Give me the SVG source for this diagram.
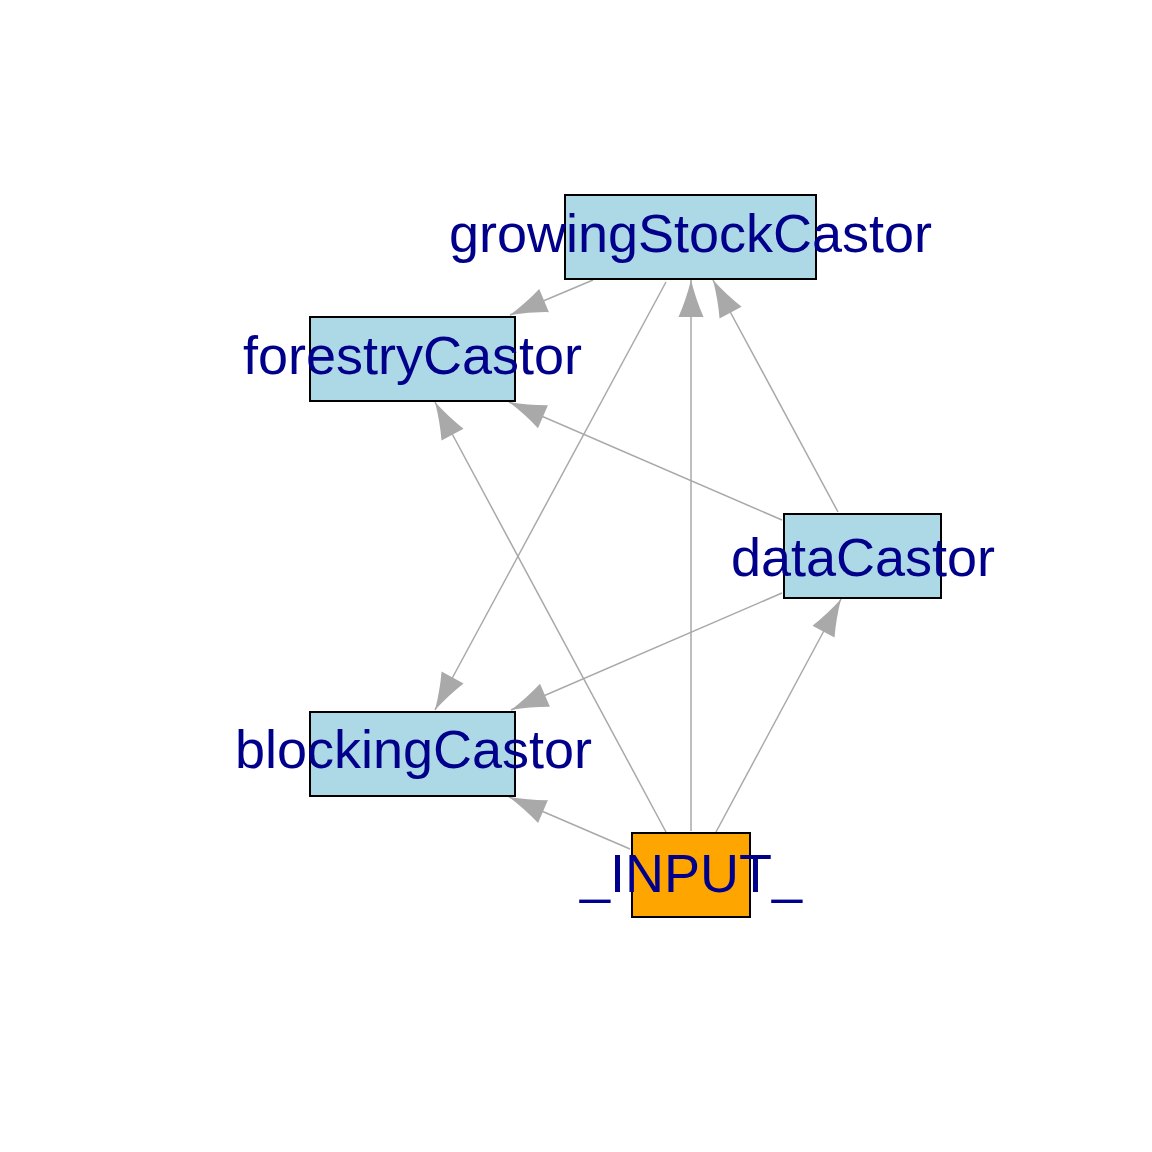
<svg xmlns="http://www.w3.org/2000/svg" width="1152" height="1152" viewBox="0 0 1152 1152">
<style>
.e{stroke:#A9A9A9;stroke-width:1.5;fill:none;marker-end:url(#ah)}
.n{fill:#ADD8E6;stroke:#000;stroke-width:2}
.in{fill:#FFA500;stroke:#000;stroke-width:2}
.t{font-family:"Liberation Sans",Arial,sans-serif;font-size:54px;fill:#00008B;text-anchor:middle}
</style>
<defs>
<marker id="ah" markerUnits="userSpaceOnUse" markerWidth="80" markerHeight="80" refX="0" refY="0" orient="auto" style="overflow:visible">
<path d="M0,0 Q-20,-5 -37,-12.5 L-37,12.5 Q-20,5 0,0 Z" fill="#A9A9A9"/>
</marker>
</defs>
<rect width="1152" height="1152" fill="#fff"/>
<g id="edges">
<line class="e" x1="593" y1="280" x2="510" y2="315"/>
<line class="e" x1="666" y1="282" x2="435" y2="710"/>
<line class="e" x1="691" y1="831" x2="691" y2="280"/>
<line class="e" x1="838" y1="512" x2="713" y2="280"/>
<line class="e" x1="782" y1="520" x2="509" y2="402"/>
<line class="e" x1="666" y1="832" x2="435" y2="402"/>
<line class="e" x1="782" y1="593" x2="511" y2="710"/>
<line class="e" x1="716" y1="832" x2="841" y2="599"/>
<line class="e" x1="630" y1="849" x2="509" y2="797"/>
</g>
<g id="growingStockCastor">
<rect class="n" x="565" y="195" width="251" height="84"/>
<text class="t" x="690.5" y="252">growingStockCastor</text>
</g>
<g id="forestryCastor">
<rect class="n" x="310" y="317" width="205" height="84"/>
<text class="t" x="412.5" y="374">forestryCastor</text>
</g>
<g id="dataCastor">
<rect class="n" x="784" y="514" width="157" height="84"/>
<text class="t" x="863" y="576">dataCastor</text>
</g>
<g id="blockingCastor">
<rect class="n" x="310" y="712" width="205" height="84"/>
<text class="t" x="413.5" y="768">blockingCastor</text>
</g>
<g id="INPUT">
<rect class="in" x="632" y="833" width="118" height="84"/>
<text class="t" x="691" y="892">_INPUT_</text>
</g>
</svg>
